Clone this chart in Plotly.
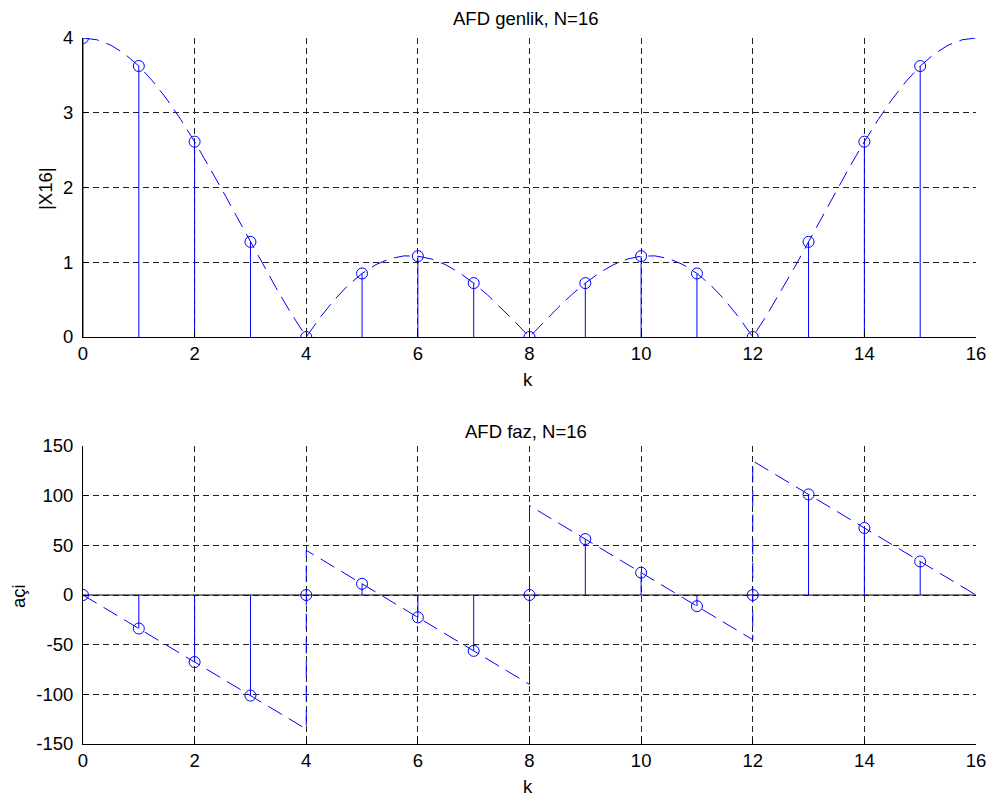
import plotly.graph_objects as go

# ---- data ----
N = 16
k = list(range(16))
mag = [4.0, 3.625, 2.613, 1.273, 0.0, 0.850, 1.082, 0.721, 0.0,
       0.721, 1.082, 0.850, 0.0, 1.273, 2.613, 3.625]
phase = [0.0, -33.75, -67.5, -101.25, 0.0, 11.25, -22.5, -56.25, 0.0,
         56.25, 22.5, -11.25, 0.0, 101.25, 67.5, 33.75]

# continuous (dashed) magnitude curve, read at 0.25 steps
w = [i * 0.25 for i in range(65)]
mag_half = [4.0, 3.976, 3.904, 3.786, 3.625, 3.422, 3.183, 2.911, 2.613,
            2.294, 1.960, 1.617, 1.273, 0.933, 0.603, 0.291, 0.0,
            0.263, 0.495, 0.692, 0.850, 0.969, 1.048, 1.085, 1.082,
            1.042, 0.966, 0.857, 0.721, 0.562, 0.385, 0.195, 0.0]
mag_curve = mag_half + mag_half[-2::-1]

# continuous (dashed) phase curve break points
ph_w = [0, 4, 4, 8, 8, 12, 12, 16]
ph_curve = [0, -135, 45, -90, 90, -45, 135, 0]

x_ticks = [0, 2, 4, 6, 8, 10, 12, 14, 16]
top_ticks = [0, 1, 2, 3, 4]
bot_ticks = [-150, -100, -50, 0, 50, 100, 150]
bot_labels = ["-150", "-100", "-50", "0", "50", "100", "150"]

BLUE = "#0000ff"
FONT = "Liberation Sans, Arial, sans-serif"
FS = 18.5


def stems(xs, ys):
    sx, sy = [], []
    for a, b in zip(xs, ys):
        sx += [a, a, None]
        sy += [0, b, None]
    return sx, sy


fig = go.Figure()

# top: magnitude
fig.add_trace(go.Scatter(x=w, y=mag_curve, mode="lines",
                         line=dict(color=BLUE, width=1, dash="16px,8px"),
                         xaxis="x", yaxis="y", hoverinfo="skip"))
sx, sy = stems(k, mag)
fig.add_trace(go.Scatter(x=sx, y=sy, mode="lines", line=dict(color=BLUE, width=1),
                         xaxis="x", yaxis="y", hoverinfo="skip"))
fig.add_trace(go.Scatter(x=k, y=mag, mode="markers",
                         marker=dict(symbol="circle-open", size=11, color=BLUE,
                                     line=dict(width=1, color=BLUE)),
                         xaxis="x", yaxis="y"))

# bottom: phase
fig.add_trace(go.Scatter(x=[0, N], y=[0, 0], mode="lines",
                         line=dict(color="black", width=1),
                         xaxis="x2", yaxis="y2", hoverinfo="skip"))
fig.add_trace(go.Scatter(x=ph_w, y=ph_curve, mode="lines",
                         line=dict(color=BLUE, width=1, dash="16px,8px"),
                         xaxis="x2", yaxis="y2", hoverinfo="skip"))
sx, sy = stems(k, phase)
fig.add_trace(go.Scatter(x=sx, y=sy, mode="lines", line=dict(color=BLUE, width=1),
                         xaxis="x2", yaxis="y2", hoverinfo="skip"))
fig.add_trace(go.Scatter(x=k, y=phase, mode="markers",
                         marker=dict(symbol="circle-open", size=11, color=BLUE,
                                     line=dict(width=1, color=BLUE)),
                         xaxis="x2", yaxis="y2"))

W, H = 987, 796
xd = [83 / W, 976 / W]
yd_top = [1 - 337 / H, 1 - 38 / H]
yd_bot = [1 - 744 / H, 1 - 446 / H]

axis_common = dict(showline=True, linecolor="black", linewidth=1,
                   ticks="inside", ticklen=5, tickcolor="black",
                   showgrid=True, gridcolor="#222222", gridwidth=1, griddash="6px,4px",
                   zeroline=False, tickfont=dict(family=FONT, size=FS, color="black"),
                   fixedrange=True, automargin=False)


def label(text, px, py, size, angle=0):
    return dict(text=text, x=px / W, y=1 - py / H, xref="paper", yref="paper",
                xanchor="center", yanchor="middle", textangle=angle,
                showarrow=False, font=dict(family=FONT, size=size, color="black"))


fig.update_layout(
    width=W, height=H,
    margin=dict(l=0, r=0, t=0, b=0, pad=0, autoexpand=False),
    paper_bgcolor="white", plot_bgcolor="white",
    showlegend=False,
    xaxis=dict(domain=xd, range=[0, 16], tickvals=x_ticks, anchor="y", **axis_common),
    yaxis=dict(domain=yd_top, range=[0, 4], tickvals=top_ticks, anchor="x",
               ticklabelstandoff=5, **axis_common),
    xaxis2=dict(domain=xd, range=[0, 16], tickvals=x_ticks, anchor="y2", **axis_common),
    yaxis2=dict(domain=yd_bot, range=[-150, 150], tickvals=bot_ticks, ticktext=bot_labels,
                anchor="x2", ticklabelstandoff=5, **axis_common),
    annotations=[
        label("AFD genlik, N=16", 526, 18, FS),
        label("AFD faz, N=16", 526, 431, FS),
        label("k", 528, 380, FS),
        label("k", 528, 786, FS),
        label("|X16|", 45, 189, FS, -90),
        label("açi", 18, 596, FS, -90),
    ],
)

fig.write_html("out.html", config={"displayModeBar": False},
               post_script="document.body.style.margin='0';document.body.style.padding='0';")
